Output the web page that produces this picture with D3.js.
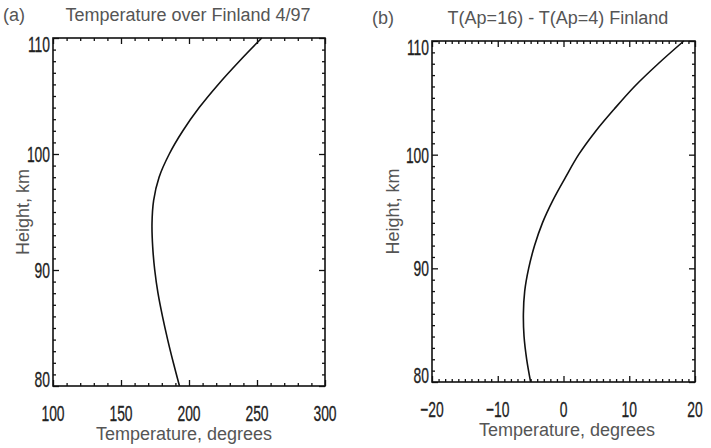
<!DOCTYPE html>
<html>
<head>
<meta charset="utf-8">
<script src="https://cdn.jsdelivr.net/npm/d3@7"></script>
<style>
    html, body { margin: 0; padding: 0; background: #fff; }
    svg { display: block; }
</style>
</head>
<body>
<div id="chart"></div>
<script>
// heights shared by both profiles (km)
const heightsKm = [80, 82, 84, 86, 88, 90, 92, 94, 96, 98, 100, 102, 104, 106, 108, 110];

// (a) temperature profile over Finland, April 1997
const tempFinland = [193.0, 188.5, 184.3, 180.5, 177.2, 174.8, 173.3, 172.8, 174.0, 178.0,
    185.5, 195.5, 207.5, 221.5, 237.0, 253.5];

// (b) T(Ap=16) - T(Ap=4)
const tempDiffAp = [-5.0, -5.6, -6.0, -6.1, -5.9, -5.3, -4.4, -3.2, -1.6, 0.3,
    2.3, 4.8, 7.7, 10.8, 14.4, 18.3];

const panelTitles = ['Temperature over Finland 4/97', 'T(Ap=16) - T(Ap=4) Finland'];
const panelTags = ['(a)', '(b)'];
const xTicksA = [100, 150, 200, 250, 300];
const xTicksB = [-20, -10, 0, 10, 20];
const yTicks = [80, 90, 100, 110];

const W = 711, H = 448;

const svg = d3.select('#chart')
    .append('svg')
    .attr('width', W)
    .attr('height', H);

function range(a, b, step) {
    return d3.range(a, b + step / 2, step);
}

function drawPanel(cfg) {
    const { box, xDomain, xMajor, xMinorStep, values, title, tag } = cfg;

    const x = d3.scaleLinear().domain(xDomain).range([box.left, box.right]);
    const y = d3.scaleLinear().domain([80, 110]).range([box.bottom, box.top]);

    const g = svg.append('g');

    const xMinor = range(xDomain[0], xDomain[1], xMinorStep).filter((v) => !xMajor.includes(v));
    const yMinor = range(80, 110, 1).filter((v) => !yTicks.includes(v));

    // inward ticks on all four sides, IDL style
    const sides = [
        { axis: d3.axisBottom(x), at: `translate(0,${box.bottom})`, major: xMajor, minor: xMinor },
        { axis: d3.axisTop(x), at: `translate(0,${box.top})`, major: xMajor, minor: xMinor },
        { axis: d3.axisLeft(y), at: `translate(${box.left},0)`, major: yTicks, minor: yMinor },
        { axis: d3.axisRight(y), at: `translate(${box.right},0)`, major: yTicks, minor: yMinor },
    ];

    sides.forEach((s) => {
        [[s.major, -6], [s.minor, -3]].forEach(([vals, size]) => {
            const ax = g.append('g')
                .attr('transform', s.at)
                .call(s.axis.tickValues(vals).tickSize(size).tickSizeOuter(0).tickFormat(''));
            ax.select('.domain').remove();
            ax.selectAll('line').attr('stroke', '#111').attr('stroke-width', 1.3);
        });
    });

    // frame
    g.append('rect')
        .attr('x', box.left)
        .attr('y', box.top)
        .attr('width', box.right - box.left)
        .attr('height', box.bottom - box.top)
        .attr('fill', 'none')
        .attr('stroke', '#111')
        .attr('stroke-width', 1.6);

    // condensed tick labels
    const tickFont = (sel) => sel
        .attr('font-family', 'Liberation Sans, Arial, sans-serif')
        .attr('font-size', 22)
        .attr('fill', '#222')
        .attr('stroke', '#222')
        .attr('stroke-width', 0.3);

    g.append('g')
        .selectAll('text')
        .data(xMajor)
        .enter()
        .append('text')
        .call(tickFont)
        .attr('transform', (d) => `translate(${x(d)},${box.bottom + 35}) scale(0.63,1)`)
        .attr('text-anchor', 'middle')
        .text((d) => (d < 0 ? '\u2212' + Math.abs(d) : d));

    g.append('g')
        .selectAll('text')
        .data(yTicks)
        .enter()
        .append('text')
        .call(tickFont)
        .attr('transform', (d) => {
            const off = d === 110 ? 14 : d === 80 ? 1 : 8;
            return `translate(${box.left - 3},${y(d) + off}) scale(0.63,1)`;
        })
        .attr('text-anchor', 'end')
        .text((d) => d);

    // profile curve
    const line = d3.line()
        .x((d) => x(d[1]))
        .y((d) => y(d[0]))
        .curve(d3.curveCatmullRom);

    g.append('path')
        .datum(d3.zip(heightsKm, values))
        .attr('d', line)
        .attr('fill', 'none')
        .attr('stroke', '#111')
        .attr('stroke-width', 1.6);

    // titles and axis names
    const txt = (sel) => sel
        .attr('font-family', 'Liberation Sans, Arial, sans-serif')
        .attr('font-size', 18)
        .attr('fill', '#555');

    g.append('text').call(txt)
        .attr('x', cfg.titleX).attr('y', box.top - 17)
        .attr('text-anchor', 'middle')
        .text(title);

    g.append('text').call(txt)
        .attr('x', cfg.tagX).attr('y', box.top - 17)
        .text(tag);

    g.append('text').call(txt)
        .attr('x', cfg.xLabelX).attr('y', box.bottom + 54)
        .attr('text-anchor', 'middle')
        .text('Temperature, degrees');

    g.append('text').call(txt)
        .attr('transform', `translate(${cfg.yLabelX},${(box.top + box.bottom) / 2}) rotate(-90)`)
        .attr('text-anchor', 'middle')
        .text('Height, km');
}

drawPanel({
    box: { left: 53, right: 325, top: 38, bottom: 386 },
    xDomain: [100, 300],
    xMajor: xTicksA,
    xMinorStep: 10,
    values: tempFinland,
    title: panelTitles[0],
    tag: panelTags[0],
    titleX: 188,
    tagX: 3,
    xLabelX: 184,
    yLabelX: 29,
});

drawPanel({
    box: { left: 432, right: 695, top: 41, bottom: 382 },
    xDomain: [-20, 20],
    xMajor: xTicksB,
    xMinorStep: 1,
    values: tempDiffAp,
    title: panelTitles[1],
    tag: panelTags[1],
    titleX: 558,
    tagX: 372,
    xLabelX: 567,
    yLabelX: 399,
});
</script>
</body>
</html>
